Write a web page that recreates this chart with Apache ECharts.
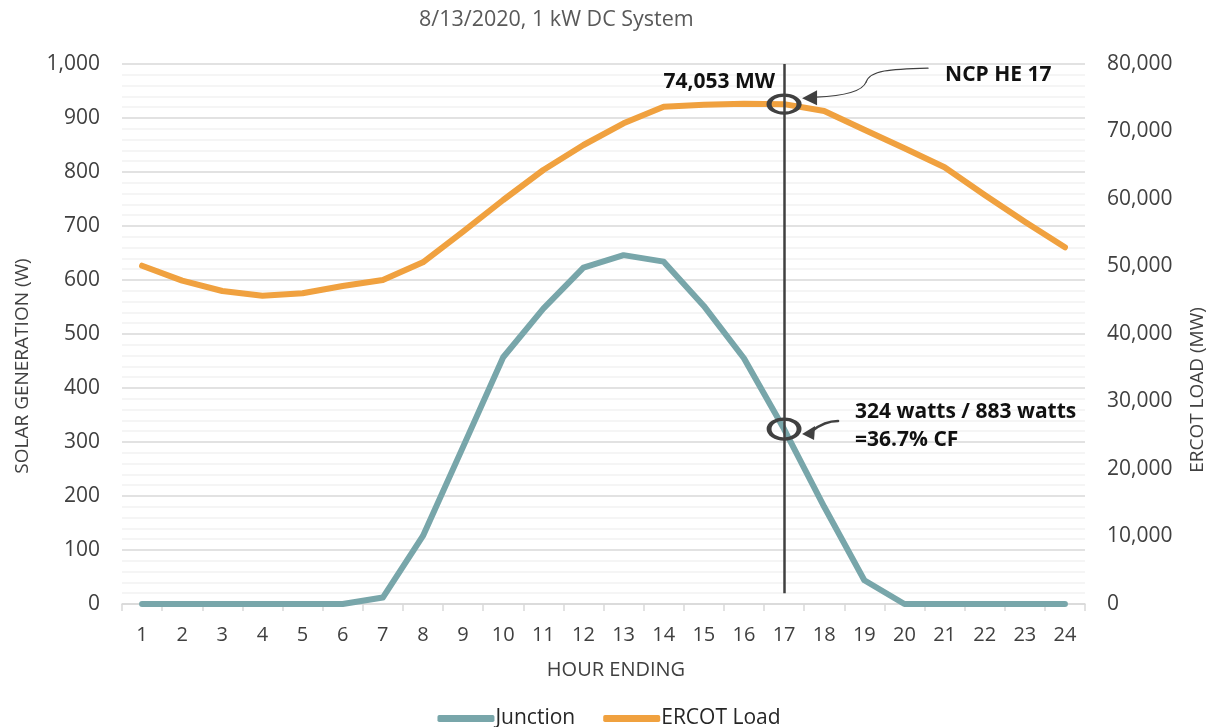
<!DOCTYPE html>
<html>
<head>
<meta charset="utf-8">
<title>Solar Generation vs ERCOT Load</title>
<script src="https://cdn.jsdelivr.net/npm/echarts@6/dist/echarts.min.js"></script>
<style>
  html, body { margin: 0; padding: 0; background: #fff; }
  #chart { width: 1218px; height: 727px; }
</style>
</head>
<body>
<div id="chart"></div>
<script>
// Hour-ending categories for the day
const hours = ['1','2','3','4','5','6','7','8','9','10','11','12','13','14','15','16','17','18','19','20','21','22','23','24'];

// Solar output of a 1 kW DC system (W)
const junction = [0, 0, 0, 0, 0, 0, 12, 126, 291, 457, 547, 623, 646, 634, 552, 455, 324, 180, 44, 0, 0, 0, 0, 0];

// ERCOT system load (MW)
const ercotLoad = [50120, 47900, 46370, 45670, 46030, 47110, 48000, 50620, 55150, 59850, 64300, 68000,
                   71210, 73680, 73950, 74100, 74053, 73040, 70270, 67510, 64700, 60590, 56640, 52840];

// Net coincident peak hour and the values called out there
const peakHour = '17';
const peakLoad = 74053;
const peakSolar = 324;
const solarCapacityWatts = 883;

const FONT = '"Open Sans", "Noto Sans", sans-serif';
const TEAL = '#78a6aa';
const ORANGE = '#f0a13f';
const DARK = '#404040';

const fmt = v => Number(v).toLocaleString('en-US');

const chart = echarts.init(document.getElementById('chart'), null, { renderer: 'canvas' });

chart.setOption({
  animation: false,
  textStyle: { fontFamily: FONT },
  title: {
    text: '8/13/2020, 1 kW DC System',
    left: 414,
    top: 4,
    textStyle: { fontFamily: FONT, fontSize: 21.5, fontWeight: 'normal', color: '#595959' }
  },
  legend: {
    data: ['Junction', 'ERCOT Load'],
    left: 'center',
    top: 703,
    icon: 'roundRect',
    itemWidth: 57,
    itemHeight: 7,
    itemGap: 28,
    textStyle: { fontFamily: FONT, fontSize: 21, color: '#262626', padding: [0, 0, 0, -4] }
  },
  grid: { left: 122, right: 133, top: 64, bottom: 123, containLabel: false },
  xAxis: {
    type: 'category',
    data: hours,
    boundaryGap: true,
    axisLine: { show: true, lineStyle: { color: '#d9d9d9', width: 1.5 } },
    axisTick: { show: true, length: 7, lineStyle: { color: '#d9d9d9', width: 1.5 } },
    axisLabel: { fontFamily: FONT, fontSize: 20, color: '#404040', margin: 21 },
    splitLine: { show: false }
  },
  yAxis: [
    {
      type: 'value',
      min: 0, max: 1000, interval: 100,
      axisLine: { show: false },
      axisTick: { show: false },
      axisLabel: { fontFamily: FONT, fontSize: 21, color: '#404040', margin: 22, formatter: fmt },
      splitLine: { show: true, lineStyle: { color: '#d9d9d9', width: 1.5 } },
      minorTick: { show: false, splitNumber: 5 },
      minorSplitLine: { show: true, lineStyle: { color: '#f2f2f2', width: 1.5 } }
    },
    {
      type: 'value',
      min: 0, max: 80000, interval: 10000,
      position: 'right',
      axisLine: { show: false },
      axisTick: { show: false },
      axisLabel: { fontFamily: FONT, fontSize: 21, color: '#404040', margin: 22, formatter: fmt },
      splitLine: { show: false }
    }
  ],
  series: [
    {
      name: 'Junction',
      type: 'line',
      data: junction,
      yAxisIndex: 0,
      showSymbol: false,
      color: TEAL,
      lineStyle: { width: 6, color: TEAL, cap: 'round', join: 'round' },
      z: 3,
      markLine: {
        silent: true,
        symbol: ['none', 'none'],
        label: { show: false },
        lineStyle: { color: DARK, width: 2.5, type: 'solid' },
        data: [[{ coord: [peakHour, 1000] }, { coord: [peakHour, 20] }]]
      }
    },
    {
      name: 'ERCOT Load',
      type: 'line',
      data: ercotLoad,
      yAxisIndex: 1,
      showSymbol: false,
      color: ORANGE,
      lineStyle: { width: 6, color: ORANGE, cap: 'round', join: 'round' },
      z: 3
    },
    {
      name: 'peak-load-ring',
      type: 'scatter',
      yAxisIndex: 1,
      data: [[peakHour, peakLoad]],
      symbol: 'circle',
      symbolSize: [30, 18],
      itemStyle: { color: 'rgba(0,0,0,0)', borderColor: DARK, borderWidth: 4, opacity: 1 },
      silent: true,
      z: 5
    },
    {
      name: 'peak-solar-ring',
      type: 'scatter',
      yAxisIndex: 0,
      data: [[peakHour, peakSolar]],
      symbol: 'circle',
      symbolSize: [30, 20],
      itemStyle: { color: 'rgba(0,0,0,0)', borderColor: DARK, borderWidth: 4, opacity: 1 },
      silent: true,
      z: 5
    }
  ]
});

// Callouts anchored to the peak-hour points
const pLoad = chart.convertToPixel({ xAxisIndex: 0, yAxisIndex: 1 }, [peakHour, peakLoad]);
const pSolar = chart.convertToPixel({ xAxisIndex: 0, yAxisIndex: 0 }, [peakHour, peakSolar]);

function rel(p, pts) {
  return pts.map(([dx, dy]) => [p[0] + dx, p[1] + dy]);
}
// One cubic Bézier segment, offsets relative to anchor p: start, control 1, control 2, end
function bez(p, s, c1, c2, e, width) {
  return {
    type: 'bezierCurve',
    shape: {
      x1: p[0] + s[0], y1: p[1] + s[1],
      cpx1: p[0] + c1[0], cpy1: p[1] + c1[1],
      cpx2: p[0] + c2[0], cpy2: p[1] + c2[1],
      x2: p[0] + e[0], y2: p[1] + e[1]
    },
    style: { stroke: DARK, lineWidth: width, fill: null, lineCap: 'round' },
    z: 10
  };
}

const cf = (peakSolar / solarCapacityWatts * 100).toFixed(1);
const boldText = (x, y, text, align) => ({
  type: 'text', x, y, z: 10,
  style: { text, fontFamily: FONT, fontSize: 21, fontWeight: 'bold', fill: '#111',
           align, verticalAlign: 'middle' }
});

chart.setOption({
  graphic: [
    // Y-axis titles
    {
      type: 'text', x: 23, y: 366, rotation: Math.PI / 2,
      style: { text: 'SOLAR GENERATION (W)', fontFamily: FONT, fontSize: 19, fill: '#404040',
               align: 'center', verticalAlign: 'middle' }
    },
    {
      type: 'text', x: 1198, y: 390, rotation: Math.PI / 2,
      style: { text: 'ERCOT LOAD (MW)', fontFamily: FONT, fontSize: 19, fill: '#404040',
               align: 'center', verticalAlign: 'middle' }
    },
    // X-axis title
    {
      type: 'text', x: 616, y: 670,
      style: { text: 'HOUR ENDING', fontFamily: FONT, fontSize: 20, fill: '#404040',
               align: 'center', verticalAlign: 'middle' }
    },
    // Peak load callout
    boldText(pLoad[0] - 9, pLoad[1] - 22, fmt(peakLoad) + ' MW', 'right'),
    boldText(pLoad[0] + 161, pLoad[1] - 29, 'NCP HE ' + peakHour, 'left'),
    bez(pLoad, [144, -36], [106, -35], [86, -34], [82, -22], 1.2),
    bez(pLoad, [82, -22], [78, -12], [56, -8], [32, -7], 1.2),
    {
      type: 'polygon', z: 10,
      shape: { points: rel(pLoad, [[18, -6], [33, -14], [33, 1]]) },
      style: { fill: DARK }
    },
    // Capacity-factor callout
    boldText(pSolar[0] + 71, pSolar[1] - 17, peakSolar + ' watts / ' + solarCapacityWatts + ' watts', 'left'),
    boldText(pSolar[0] + 71, pSolar[1] + 11, '=' + cf + '% CF', 'left'),
    bez(pSolar, [54, -8], [46, -8], [38, -6], [28, 2], 2.5),
    {
      type: 'polygon', z: 10,
      shape: { points: rel(pSolar, [[18, 5], [31, -3], [30, 11]]) },
      style: { fill: DARK }
    }
  ]
});
</script>
</body>
</html>
